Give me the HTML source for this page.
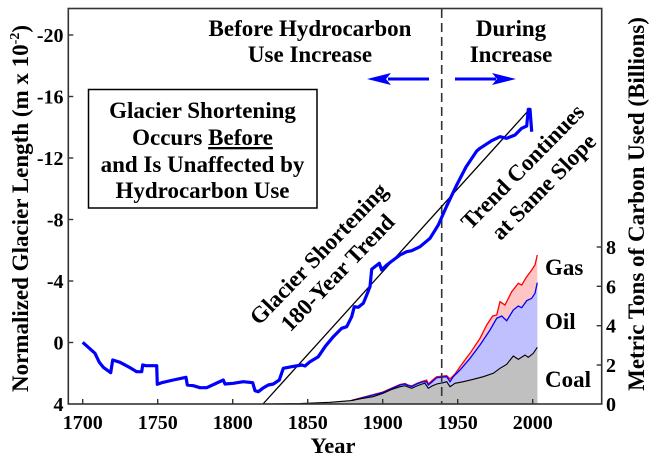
<!DOCTYPE html>
<html><head><meta charset="utf-8"><style>
html,body{margin:0;padding:0;background:#fff;}
svg{display:block;}
svg text{font-family:"Liberation Serif","Noto Serif CJK SC","DejaVu Serif",serif !important;font-weight:bold;fill:#000;}
</style></head><body>
<svg width="659" height="462" viewBox="0 0 659 462" xmlns="http://www.w3.org/2000/svg" font-family="Liberation Serif, Noto Serif CJK SC, DejaVu Serif, serif" font-weight="bold">
<rect x="0" y="0" width="659" height="462" fill="#fff"/>

<!-- carbon stacked areas -->
<path d="M300,404 L352,400.3 L383,392 L392,388 L400,384.5 L405,383.5 L408,385 L411.7,386 L416.7,383.5 L422,381.5 L426.7,380 L428.3,384 L432,380.5 L436.7,376.7 L446.7,375.7 L450,379 L455,374 L460,366.7 L470,353.3 L480,338.3 L486.7,325 L492.7,316 L496.7,315 L500,301.7 L505,305 L511.7,291.7 L518.3,283.3 L521.7,285 L526.7,276.7 L531.7,270 L535,265 L537.3,255 L537.3,404 Z" fill="#ffc4c4"/>
<path d="M300,404 L352,400.5 L383,392.5 L392,388.5 L400,385 L405,384 L408,385.5 L411.7,386.5 L416.7,384 L422,382 L426.7,381.7 L428.3,385 L432,382 L436.7,377.7 L446.7,376.7 L450,381.7 L453.3,376.7 L460,370 L470,358.3 L480,345 L490,330 L496.7,318.3 L501.7,316 L506.7,320.7 L513.3,310 L518.3,306 L521.7,307.7 L526.7,300.7 L531.7,298.3 L535,293.3 L537.3,282.7 L537.3,404 Z" fill="#c0c0ff"/>
<path d="M262,404 L300,403.5 L330,402.3 L350,400.7 L363,398.3 L373,396.7 L383,393.3 L392,389.3 L400,386.7 L405,385.7 L408,387 L411.7,388.3 L416.7,386 L422,384 L425,383.3 L428.3,388.3 L432,386 L436.7,384 L443.3,382.7 L446.7,381.7 L450,386.7 L455,383.3 L463.3,381.7 L473.3,379.3 L483.3,376.7 L493.3,373.3 L500,368.3 L506.7,364.3 L513.3,356 L518.3,359.3 L525,355 L528.3,357.3 L533.3,353.3 L537.3,347.3 L537.3,404 Z" fill="#c0c0c0"/>
<polyline fill="none" stroke="#ff0000" stroke-width="1.3" points="352,400.3 383,392 392,388 400,384.5 405,383.5 408,385 411.7,386 416.7,383.5 422,381.5 426.7,380 428.3,384 432,380.5 436.7,376.7 446.7,375.7 450,379 455,374 460,366.7 470,353.3 480,338.3 486.7,325 492.7,316 496.7,315 500,301.7 505,305 511.7,291.7 518.3,283.3 521.7,285 526.7,276.7 531.7,270 535,265 537.3,255"/>
<polyline fill="none" stroke="#0000ff" stroke-width="1.3" points="352,400.5 383,392.5 392,388.5 400,385 405,384 408,385.5 411.7,386.5 416.7,384 422,382 426.7,381.7 428.3,385 432,382 436.7,377.7 446.7,376.7 450,381.7 453.3,376.7 460,370 470,358.3 480,345 490,330 496.7,318.3 501.7,316 506.7,320.7 513.3,310 518.3,306 521.7,307.7 526.7,300.7 531.7,298.3 535,293.3 537.3,282.7"/>
<polyline fill="none" stroke="#000" stroke-width="1.1" points="262,404 300,403.5 330,402.3 350,400.7 363,398.3 373,396.7 383,393.3 392,389.3 400,386.7 405,385.7 408,387 411.7,388.3 416.7,386 422,384 425,383.3 428.3,388.3 432,386 436.7,384 443.3,382.7 446.7,381.7 450,386.7 455,383.3 463.3,381.7 473.3,379.3 483.3,376.7 493.3,373.3 500,368.3 506.7,364.3 513.3,356 518.3,359.3 525,355 528.3,357.3 533.3,353.3 537.3,347.3"/>

<!-- dashed divider -->
<line x1="441.7" y1="9" x2="441.7" y2="404" stroke="#333" stroke-width="1.6" stroke-dasharray="9,5"/>

<!-- trend line -->
<line x1="263" y1="404" x2="528" y2="111" stroke="#000" stroke-width="1.3"/>

<!-- glacier curve -->
<polyline fill="none" stroke="#0000ff" stroke-width="3.2" stroke-linejoin="round" points="82.7,342.3 95,353.3 99.3,362.3 103.3,367.3 110.7,372.7 112.7,360 120,362.3 129.3,367.3 136.7,371.7 141.7,371.7 142.7,365 146,365.7 156.7,365.7 157.3,384.3 161.7,382.7 173.3,380 186,377.3 187.3,385 193.3,385.7 200,387.7 206.7,387.7 223.3,380 225,384 233.3,383.3 243.3,381.7 252.7,382.7 255,390.7 258.3,391.7 262.7,388.3 268.3,385 273.3,384 279.3,380 283.3,368.3 291.7,366.7 301.7,365 305,366 310,361.7 318.3,356.7 321.7,351.7 325,346.7 333.3,336.7 341.7,328.3 346.7,326.7 351.7,316.7 354.3,306.7 358.3,307.3 363.3,303.3 366.7,295 370,286.7 371.7,269.3 379.3,263.3 381.7,270 386.7,265 400,255 406.7,251.7 411.7,250.7 420,246.7 430,238.3 438.3,225 446.7,206 456.7,185 466,167 476.7,151 480,148.3 491.7,140.7 500,136.7 506.7,138.3 515,135 521.7,128.3 526.7,126 528.3,109.3 530,109.3 531.7,131.7"/>

<!-- frame -->
<rect x="68.3" y="8.5" width="533.4" height="395.5" fill="none" stroke="#333" stroke-width="1.6"/>

<!-- ticks -->
<g stroke="#333" stroke-width="1.4">
<line x1="82.7" y1="404" x2="82.7" y2="399"/>
<line x1="157.7" y1="404" x2="157.7" y2="399"/>
<line x1="232.7" y1="404" x2="232.7" y2="399"/>
<line x1="307.7" y1="404" x2="307.7" y2="399"/>
<line x1="382.7" y1="404" x2="382.7" y2="399"/>
<line x1="457.7" y1="404" x2="457.7" y2="399"/>
<line x1="532.7" y1="404" x2="532.7" y2="399"/>
<line x1="68.3" y1="35" x2="73.3" y2="35"/>
<line x1="68.3" y1="96.5" x2="73.3" y2="96.5"/>
<line x1="68.3" y1="158" x2="73.3" y2="158"/>
<line x1="68.3" y1="219.5" x2="73.3" y2="219.5"/>
<line x1="68.3" y1="281" x2="73.3" y2="281"/>
<line x1="68.3" y1="342.5" x2="73.3" y2="342.5"/>
<line x1="601.7" y1="365" x2="596.7" y2="365"/>
<line x1="601.7" y1="325.7" x2="596.7" y2="325.7"/>
<line x1="601.7" y1="286.3" x2="596.7" y2="286.3"/>
<line x1="601.7" y1="247" x2="596.7" y2="247"/>
</g>

<!-- x tick labels -->
<g font-size="20" text-anchor="middle">
<text x="82.7" y="429">1700</text>
<text x="157.7" y="429">1750</text>
<text x="232.7" y="429">1800</text>
<text x="307.7" y="429">1850</text>
<text x="382.7" y="429">1900</text>
<text x="457.7" y="429">1950</text>
<text x="532.7" y="429">2000</text>
</g>
<text x="333" y="453" font-size="22.5" text-anchor="middle">Year</text>

<!-- left tick labels -->
<g font-size="20" text-anchor="end">
<text x="63.5" y="42">-20</text>
<text x="63.5" y="103.5">-16</text>
<text x="63.5" y="165">-12</text>
<text x="63.5" y="226.5">-8</text>
<text x="63.5" y="288">-4</text>
<text x="63.5" y="349.5">0</text>
<text x="63.5" y="411">4</text>
</g>

<!-- right tick labels -->
<g font-size="20" text-anchor="start">
<text x="606" y="411">0</text>
<text x="606" y="372">2</text>
<text x="606" y="332.7">4</text>
<text x="606" y="293.3">6</text>
<text x="606" y="254">8</text>
</g>

<!-- axis titles -->
<text transform="translate(28,208.5) rotate(-90)" font-size="23" text-anchor="middle">Normalized Glacier Length (m x 10<tspan font-size="14" dy="-9">-2</tspan><tspan dy="9">)</tspan></text>
<text transform="translate(644,204) rotate(-90)" font-size="23" text-anchor="middle">Metric Tons of Carbon Used (Billions)</text>

<!-- top annotations -->
<g font-size="23" text-anchor="middle">
<text x="310" y="36">Before Hydrocarbon</text>
<text x="310" y="62">Use Increase</text>
<text x="511" y="36">During</text>
<text x="511" y="62">Increase</text>
</g>

<!-- arrows -->
<line x1="388" y1="79" x2="429" y2="79" stroke="#0000ff" stroke-width="3"/>
<polygon points="367,79 391,73 386,79 391,85" fill="#0000ff"/>
<line x1="455" y1="79" x2="496" y2="79" stroke="#0000ff" stroke-width="3"/>
<polygon points="516,79 492,73 497,79 492,85" fill="#0000ff"/>

<!-- box -->
<rect x="88.5" y="89.5" width="228.5" height="118.5" fill="#fff" stroke="#000" stroke-width="1.5"/>
<g font-size="23" text-anchor="middle">
<text x="202.5" y="118">Glacier Shortening</text>
<text x="202.5" y="145">Occurs <tspan text-decoration="underline">Before</tspan></text>
<text x="202.5" y="172">and Is Unaffected by</text>
<text x="202.5" y="198">Hydrocarbon Use</text>
</g>

<!-- diagonal annotations -->
<g font-size="23" text-anchor="middle">
<text transform="translate(324,259) rotate(-46)">Glacier Shortening</text>
<text transform="translate(343,278) rotate(-46)">180-Year Trend</text>
<text transform="translate(528,172) rotate(-45.5)">Trend Continues</text>
<text transform="translate(549,192) rotate(-45.5)">at Same Slope</text>
</g>

<!-- fuel labels -->
<g font-size="23">
<text x="545" y="275">Gas</text>
<text x="545" y="329">Oil</text>
<text x="545" y="387">Coal</text>
</g>
</svg>
</body></html>
